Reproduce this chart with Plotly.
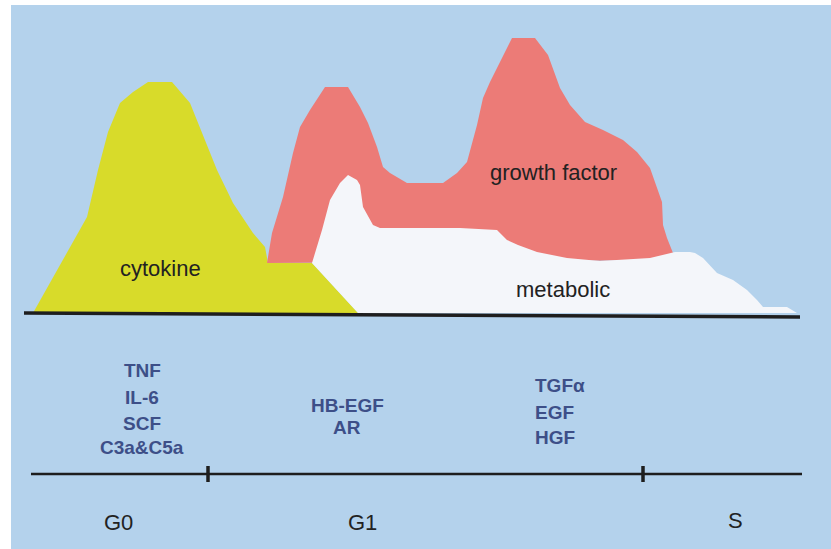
import plotly.graph_objects as go

# ---- data (x: position along cell-cycle, y: level above baseline) ----
cytokine_x = [33, 63, 87, 98, 108, 120, 133, 148, 172, 190, 202, 217, 233, 253, 265, 268, 312, 358, 33]
cytokine_y = [0, 53, 96, 143, 181, 210, 221, 231, 231, 210, 180, 143, 110, 80, 66, 50, 50, 0, 0]

growth_x = [267, 272, 283, 293, 300, 310, 325, 348, 360, 368, 377, 383, 390, 407, 443, 457, 467, 477,
            483, 490, 500, 512, 535, 548, 560, 570, 585, 603, 623, 637, 650, 657, 662, 663, 667, 673, 676, 267]
growth_y = [50, 80, 116, 160, 186, 203, 226, 226, 206, 190, 166, 146, 140, 130, 130, 140, 151, 188,
            215, 231, 251, 275, 275, 258, 225, 208, 191, 183, 173, 161, 145, 125, 111, 88, 75, 60, 53, 50]

metabolic_x = [358, 312, 322, 330, 340, 348, 357, 360, 363, 373, 380, 460, 497, 507, 518, 537, 567, 600,
               650, 675, 690, 695, 703, 717, 733, 747, 757, 763, 787, 797, 358]
metabolic_y = [0, 50, 83, 113, 130, 138, 133, 128, 106, 88, 85, 85, 83, 73, 68, 61, 55, 52,
               55, 61, 61, 60, 55, 40, 33, 23, 13, 6, 6, 0, 0]

baseline_x = [24, 800]
baseline_y = [0, -4]

timeline_x = [31, 802]
timeline_y = [-161, -161]
tick_x = [208, 643]
tick_y = [-153, -169]

area_labels = ["cytokine", "growth factor", "metabolic"]
area_label_x = [160, 553, 563]
area_label_y = [45, 141, 24]

mediators = ["TNF", "IL-6", "SCF", "C3a&C5a", "HB-EGF", "AR", "TGFα", "EGF", "HGF"]
mediator_x = [142, 142, 142, 142, 347, 347, 533, 533, 533]
mediator_y = [-57, -84, -110, -134, -92, -114, -72, -99, -124]
mediator_anchor = ["center"] * 6 + ["left"] * 3

phases = ["G0", "G1", "S"]
phase_x = [118, 362, 735]
phase_y = [-209, -209, -207]

# ---- styles ----
BG = "#b4d2ec"
YELLOW = "#d8db2a"
RED = "#ec7b77"
WHITE = "#f4f6fa"
INK = "#1e1e1e"
BLUE = "#3d4f88"

fig = go.Figure()

for xs, ys, col in [(cytokine_x, cytokine_y, YELLOW),
                    (growth_x, growth_y, RED),
                    (metabolic_x, metabolic_y, WHITE)]:
    fig.add_trace(go.Scatter(x=xs, y=ys, mode="lines", fill="toself", fillcolor=col,
                             line=dict(width=0, color=col), hoverinfo="skip", showlegend=False))

fig.add_trace(go.Scatter(x=baseline_x, y=baseline_y, mode="lines",
                         line=dict(width=3.5, color=INK), hoverinfo="skip", showlegend=False))
fig.add_trace(go.Scatter(x=timeline_x, y=timeline_y, mode="lines",
                         line=dict(width=2.5, color=INK), hoverinfo="skip", showlegend=False))
for tx in tick_x:
    fig.add_trace(go.Scatter(x=[tx, tx], y=tick_y, mode="lines",
                             line=dict(width=3.5, color=INK), hoverinfo="skip", showlegend=False))

for t, x, y in zip(area_labels, area_label_x, area_label_y):
    fig.add_annotation(x=x, y=y, text=t, showarrow=False, xanchor="center", yanchor="middle",
                       font=dict(family="Liberation Sans, Arial", size=22, color="#222222"))

for t, x, y, a in zip(mediators, mediator_x, mediator_y, mediator_anchor):
    fig.add_annotation(x=x, y=y, text=t.replace("&", "&amp;"), showarrow=False, xanchor=a, yanchor="middle",
                       font=dict(family="Liberation Sans, Arial", size=19, color=BLUE, weight="bold"))

for t, x, y in zip(phases, phase_x, phase_y):
    fig.add_annotation(x=x, y=y, text=t, showarrow=False, xanchor="center", yanchor="middle",
                       font=dict(family="Liberation Sans, Arial", size=22, color="#222222"))

fig.add_shape(type="rect", xref="paper", yref="paper", x0=11 / 831, x1=1, y0=0, y1=544 / 549,
              fillcolor=BG, line=dict(width=0), layer="below")

fig.update_layout(
    width=831, height=549,
    margin=dict(l=0, r=0, t=0, b=0),
    paper_bgcolor="white", plot_bgcolor="rgba(0,0,0,0)",
    xaxis=dict(range=[0, 831], visible=False, fixedrange=True),
    yaxis=dict(range=[-236, 313], visible=False, fixedrange=True),
    showlegend=False,
)

fig.write_html("out.html", config={"displayModeBar": False},
               post_script="document.body.style.margin='0';document.body.style.overflow='hidden';")
